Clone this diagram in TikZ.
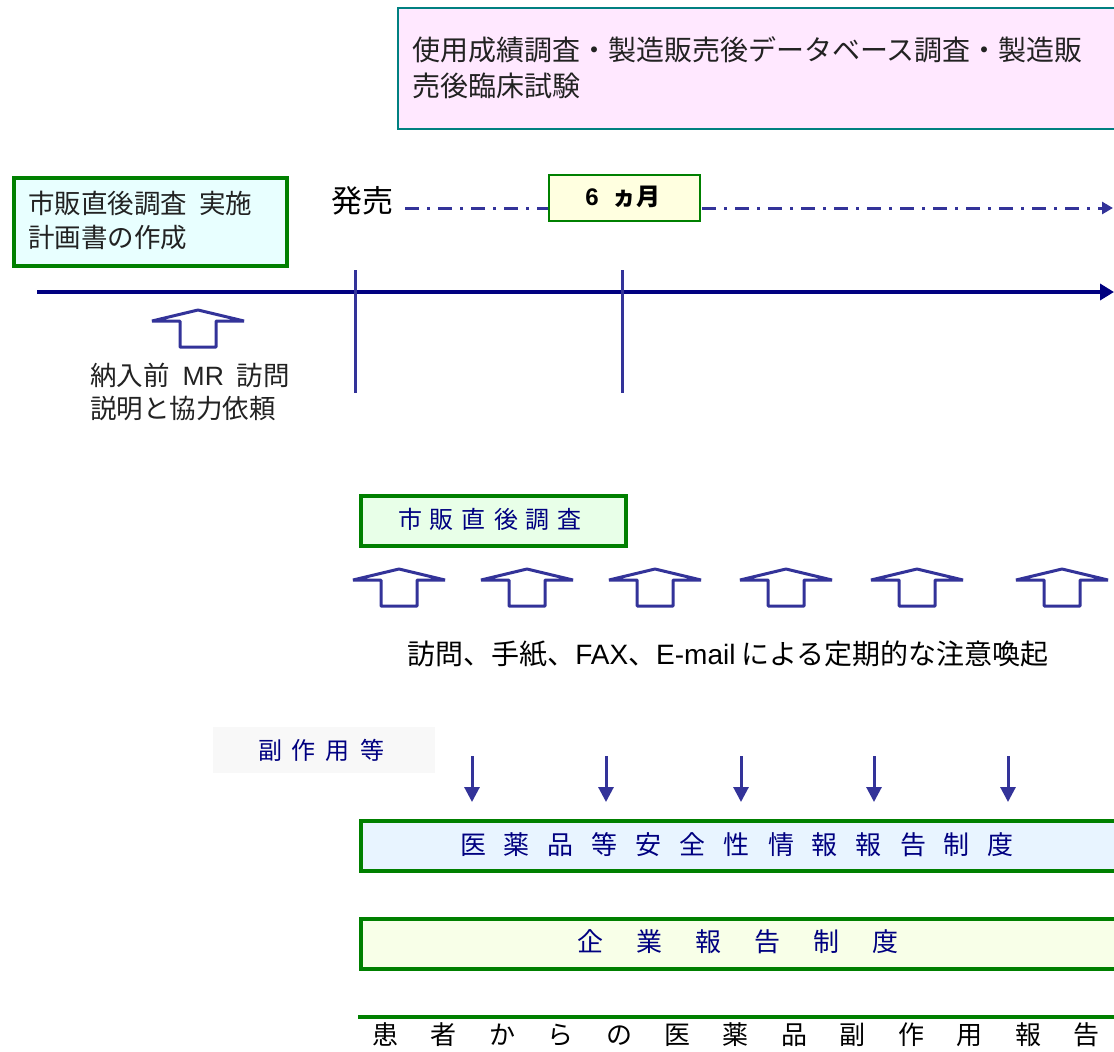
\documentclass[tikz,border=0pt]{standalone}
\usepackage{fontspec}
\setmainfont{Noto Sans CJK JP}
\newfontfamily\lat{Liberation Sans}
\usetikzlibrary{arrows.meta}
\definecolor{navyc}{HTML}{000080}
\definecolor{arrc}{HTML}{333399}
\definecolor{grnc}{HTML}{008000}
\definecolor{tealc}{HTML}{008080}
\definecolor{pinkf}{HTML}{FFE8FF}
\definecolor{cyanf}{HTML}{E8FFFF}
\definecolor{yelf}{HTML}{FFFFE0}
\definecolor{mintf}{HTML}{E8FFE8}
\definecolor{greyf}{HTML}{F8F8F8}
\definecolor{bluef}{HTML}{E8F4FF}
\definecolor{creamf}{HTML}{F8FFE8}
\definecolor{txtc}{HTML}{222222}
\def\jspgap{}
\def\jspEnd{}
\newcommand\jsp[2]{\def\jspgap{#1}\jspA#2\jspEnd}
\def\jspA#1{#1\jspB}
\def\jspB#1{\ifx#1\jspEnd\else\jspgap#1\expandafter\jspB\fi}
\tikzset{
  fs/.style={font=\fontsize{#1}{#1}\selectfont},
  lbl/.style={anchor=west, inner sep=0pt, text=txtc, fs=#1},
  gbox/.style={draw=grnc, line width=4pt, inner sep=0pt, anchor=north west},
  hollowup/.pic={\draw[arrc, line width=3pt, fill=white, line join=bevel]
     (-46,11) -- (0,0) -- (46,11) -- (18,11) -- (18,37) -- (-18,37) -- (-18,11) -- cycle;},
  downarr/.style={arrc, line width=3pt, -{Triangle[width=15pt,length=15pt]}},
}
\begin{document}
\begin{tikzpicture}[x=1pt,y=-1pt]
\clip (0,0) rectangle (1114,1052);
\fill[white] (0,0) rectangle (1114,1052);

% top box
\node[draw=tealc, line width=2pt, fill=pinkf, inner sep=0pt, anchor=north west,
      minimum width=730pt, minimum height=121pt] (topbox) at (397,7) {};
\node[lbl=28] (toptxt1) at (412,50) {使用成績調査・製造販売後データベース調査・製造販};
\node[lbl=28] (toptxt2) at (412,86) {売後臨床試験};

% plan box
\node[gbox, fill=cyanf, minimum width=273pt, minimum height=88pt] (plan) at (12,176) {};
\node[lbl=26.5] (plantxt1) at (28,203) {市販直後調査\hspace{12pt}実施};
\node[lbl=26.5] (plantxt2) at (28,237) {計画書の作成};

% launch and 6 months
\node[anchor=center, inner sep=0pt, fs=31] (launch) at (362,201) {発売};
\coordinate (dashstart) at (405,208);
\coordinate (dashend) at (1113,208);
\draw[arrc, line width=3pt, dash pattern=on 14pt off 8pt on 3pt off 8pt, -{Triangle[width=12pt,length=11pt]}]
   (dashstart) -- (dashend);
\node[draw=grnc, line width=1.5pt, fill=yelf, inner sep=0pt, anchor=north west,
      minimum width=151pt, minimum height=46pt] (six) at (548,174) {};
\node[inner sep=0pt, fs=24] (sixtxt) at (623,197) {\bfseries{\lat 6}\hspace{14pt}ヵ月};

% timeline
\coordinate (tlstart) at (37,292);
\coordinate (tlend) at (1114,292);
\draw[navyc, line width=4pt, -{Triangle[width=16pt,length=14pt]}] (tlstart) -- (tlend);
\coordinate (v1a) at (355,270); \coordinate (v1b) at (355,393);
\coordinate (v2a) at (622,270); \coordinate (v2b) at (622,393);
\draw[arrc, line width=3pt] (v1a) -- (v1b);
\draw[arrc, line width=3pt] (v2a) -- (v2b);

% MR arrow
\pic at (198,310) {hollowup};
\node[lbl=26.5] (mrtxt1) at (90,375) {納入前\hspace{13pt}{\lat MR}\hspace{13pt}訪問};
\node[lbl=26.5] (mrtxt2) at (90,408) {説明と協力依頼};

% post-marketing survey box
\node[gbox, fill=mintf, minimum width=265pt, minimum height=50pt] (survey) at (359,494) {};
\node[text=navyc, inner sep=0pt, fs=24] (surveytxt) at (490,519) {\jsp{\hspace{8pt}}{市販直後調査}};

% hollow arrows
\foreach \x in {399,527,655,786,917,1062} \pic at (\x,569) {hollowup};
\node[text=black, inner sep=0pt, fs=28] (remind) at (728,654)
   {訪問、手紙、{\lat FAX}、{\lat E-mail}\hspace{6pt}による定期的な注意喚起};

% side effects
\node[fill=greyf, inner sep=0pt, anchor=north west, minimum width=222pt, minimum height=46pt] (side) at (213,727) {};
\node[text=navyc, inner sep=0pt, fs=24] (sidetxt) at (321,750) {\jsp{\hspace{10pt}}{副作用等}};

% down arrows
\foreach \x [count=\i] in {472,606,741,874,1008} {
  \coordinate (da\i) at (\x,756);
  \coordinate (db\i) at (\x,802);
  \draw[downarr] (da\i) -- (db\i);
}

% safety info report system
\node[gbox, fill=bluef, minimum width=770pt, minimum height=50pt] (safety) at (359,819) {};
\node[text=navyc, inner sep=0pt, fs=26] (safetytxt) at (737,845) {\jsp{\hspace{18pt}}{医薬品等安全性情報報告制度}};

% corporate report system
\node[gbox, fill=creamf, minimum width=770pt, minimum height=50pt] (corp) at (359,917) {};
\node[text=navyc, inner sep=0pt, fs=26] (corptxt) at (738,942) {\jsp{\hspace{33pt}}{企業報告制度}};

% patient report
\coordinate (pl1) at (358,1017);
\coordinate (pl2) at (1120,1017);
\draw[grnc, line width=4pt] (pl1) -- (pl2);
\node[text=black, inner sep=0pt, fs=26] (patient) at (736,1035)
   {\makebox[727pt]{\jsp{\hfill}{患者からの医薬品副作用報告}}};
\end{tikzpicture}
\end{document}
